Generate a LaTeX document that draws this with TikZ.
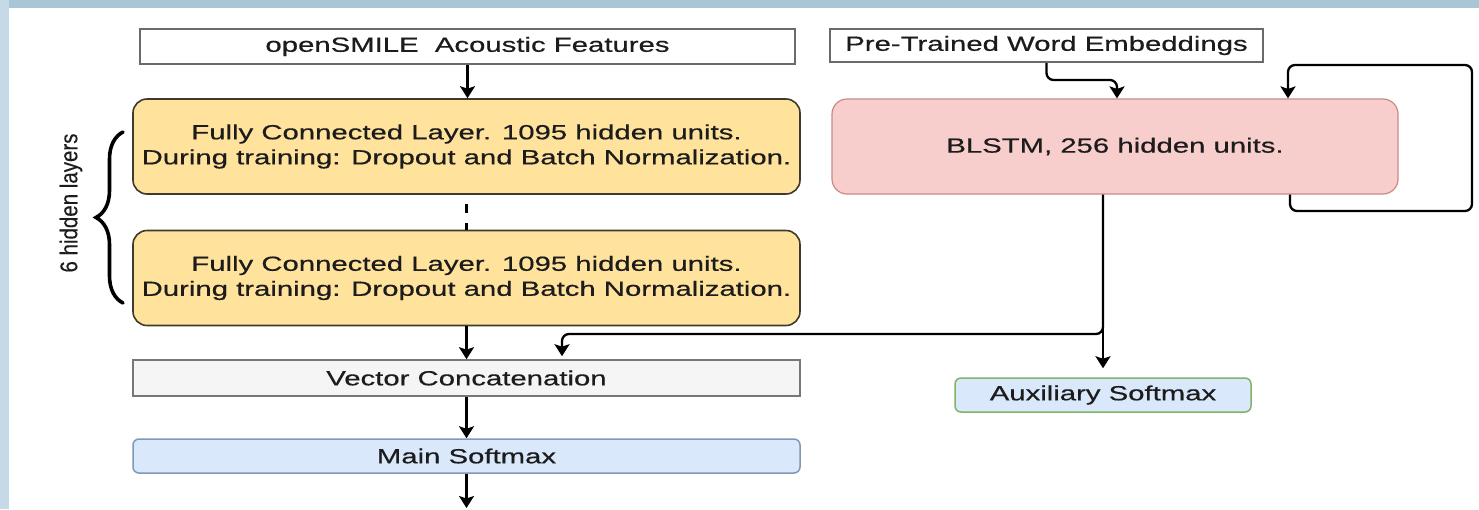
\documentclass[tikz,border=0pt]{standalone}
\usepackage{fontspec}
\usepackage{graphicx}
\setmainfont{Liberation Sans}[FakeStretch=1.43, FakeBold=0.5]
\newfontfamily\sidefont{Liberation Sans}[FakeBold=0.3]
\usetikzlibrary{arrows.meta,decorations.pathreplacing}
\definecolor{bgtop}{HTML}{A9C6D6}
\definecolor{bgleft}{HTML}{C5D9E6}
\definecolor{fcfill}{HTML}{FFE29B}
\definecolor{fcdraw}{HTML}{3F3A2E}
\definecolor{blfill}{HTML}{F8CECC}
\definecolor{bldraw}{HTML}{C98A87}
\definecolor{vcfill}{HTML}{F5F5F5}
\definecolor{vcdraw}{HTML}{777777}
\definecolor{smfill}{HTML}{DAE8FC}
\definecolor{smdraw}{HTML}{8097B8}
\definecolor{auxdraw}{HTML}{82B366}
\definecolor{inbox}{HTML}{6A6A6A}
\definecolor{txt}{HTML}{1C1C1C}
\begin{document}
\begin{tikzpicture}[x=1pt,y=-1pt,
  every node/.style={text=txt, font=\fontsize{20.5}{25}\selectfont, inner sep=0pt},
  inputbox/.style={draw=inbox, line width=2.4pt, fill=white},
  fcbox/.style={draw=fcdraw, line width=1.6pt, fill=fcfill, rounded corners=14pt, align=center, minimum width=667pt, minimum height=95pt},
  blbox/.style={draw=bldraw, line width=1.2pt, fill=blfill, rounded corners=15pt, minimum width=566pt, minimum height=95pt},
  vcbox/.style={draw=vcdraw, line width=1.6pt, fill=vcfill, minimum width=667pt, minimum height=36pt},
  smbox/.style={draw=smdraw, line width=1.5pt, fill=smfill, rounded corners=6pt, minimum width=667pt, minimum height=34pt},
  auxbox/.style={draw=auxdraw, line width=1.5pt, fill=smfill, rounded corners=6pt, minimum width=296pt, minimum height=34pt},
  conn/.style={draw=black, line width=2.3pt, rounded corners=7pt},
  arr/.style={conn, -{Stealth[length=12pt, width=15pt, inset=2.5pt]}}
]
\useasboundingbox (0,0) rectangle (1479,509);
\fill[white] (0,0) rectangle (1479,509);
\fill[bgtop] (0,0) rectangle (1479,8);
\fill[bgleft] (0,0) rectangle (9,509);

% left column
\node[inputbox, minimum width=655pt, minimum height=35pt] (open) at (467.5,46.5) {openSMILE\ \ Acoustic Features};
\node[fcbox] (fc1) at (466.5,146.5) {Fully Connected Layer. 1095 hidden units.\\During training: Dropout and Batch Normalization.};
\node[fcbox] (fc2) at (466.5,278) {Fully Connected Layer. 1095 hidden units.\\During training: Dropout and Batch Normalization.};
\node[vcbox] (vc) at (466.5,378) {Vector Concatenation};
\node[smbox] (ms) at (466.5,456) {Main Softmax};
\coordinate (out) at (466.5,508);

% right column
\node[inputbox, minimum width=433pt, minimum height=33pt] (pre) at (1046.5,45.5) {Pre-Trained Word Embeddings};
\node[blbox] (bl) at (1115,146.5) {BLSTM, 256 hidden units.};
\node[auxbox] (aux) at (1103,395) {Auxiliary Softmax};

% side label
\node (lbl) at (71,203) {\scalebox{1.18}[1]{\rotatebox{90}{\sidefont\fontsize{20.5}{24}\selectfont 6 hidden layers}}};
\coordinate (brb) at (123,303);
\coordinate (brt) at (123,132);
\draw[line width=3.6pt, line cap=round, decorate, decoration={brace, amplitude=27pt, aspect=0.5}] (brb) -- (brt);

% connectors
\draw[arr] (open.south) -- (open.south |- fc1.north);
\draw[line width=3.5pt, dash pattern=on 9pt off 10pt, dash phase=10pt] (fc1.south) -- (fc2.north);
\draw[arr] (fc2.south) -- (vc.north);
\draw[arr] (vc.south) -- (ms.north);
\draw[arr] (ms.south) -- (out);

\draw[arr] (pre.south) -- (1046.5,80) -- (1117,80) -- (1117,0 |- bl.north);
\draw[arr] (1290,0 |- bl.south) -- (1290,211) -- (1472,211) -- (1472,65) -- (1288,65) -- (1288,0 |- bl.north);
\draw[arr, shorten >=3pt] (1103,0 |- bl.south) -- (1103,334) -- (562,334) -- (562,0 |- vc.north);
\draw[arr, shorten >=9pt] (1103,0 |- bl.south) -- (aux.north);
\end{tikzpicture}
\end{document}
